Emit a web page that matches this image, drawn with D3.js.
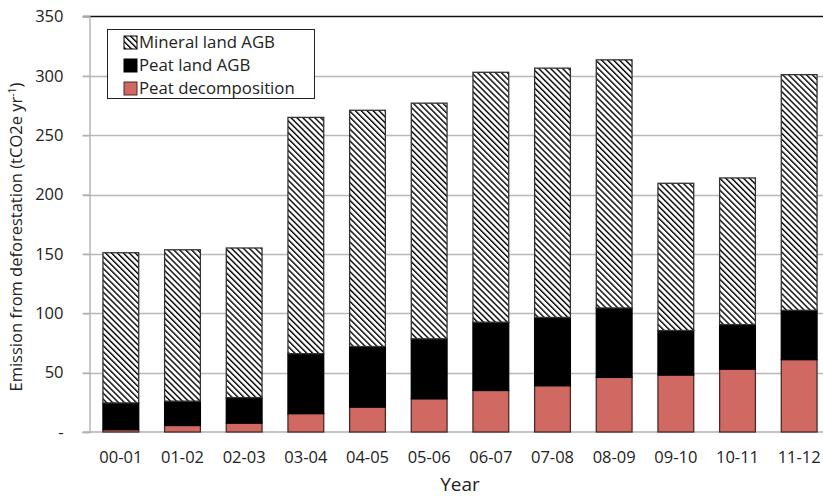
<!DOCTYPE html>
<html>
<head>
<meta charset="utf-8">
<script src="https://cdn.jsdelivr.net/npm/d3@7"></script>
<style>
  html, body { margin: 0; padding: 0; background: #fff; }
  svg { display: block; font-family: "Open Sans", sans-serif; }
</style>
</head>
<body>
<svg id="chart" width="823" height="498"></svg>
<script>
// Emissions from deforestation by year (tCO2e per year), stacked by source
const years = ["00-01","01-02","02-03","03-04","04-05","05-06","06-07","07-08","08-09","09-10","10-11","11-12"];
const peatDecomposition = [2, 5.5, 7.5, 15.5, 21, 28, 35, 39, 46, 48, 53, 61];
const peatLandAGB       = [22.5, 20.5, 21.5, 50.5, 51, 50.5, 57.5, 57.5, 58.5, 37.5, 37.5, 41.5];
const mineralLandAGB    = [126.5, 127.5, 126, 199, 199, 198.5, 210.5, 210, 209, 124, 123.5, 198.5];
const yTicks = [0, 50, 100, 150, 200, 250, 300, 350];
const seriesNames = ["Mineral land AGB", "Peat land AGB", "Peat decomposition"];

const svg = d3.select("#chart");
const x = d3.scaleBand().domain(years).range([90, 830]).paddingInner(0.42).paddingOuter(0.21);
const y = d3.scaleLinear().domain([0, 350]).range([432, 16.5]);

// hatch pattern for the mineral land series
const defs = svg.append("defs");
const pat = defs.append("pattern")
  .attr("id", "hatch").attr("patternUnits", "userSpaceOnUse")
  .attr("width", 4.2).attr("height", 4.2)
  .attr("patternTransform", "rotate(-45)");
pat.append("rect").attr("width", 4.2).attr("height", 4.2).attr("fill", "#fff");
pat.append("line").attr("x1", 0).attr("y1", 0).attr("x2", 0).attr("y2", 4.2)
  .attr("stroke", "#000").attr("stroke-width", 2.8);

// gridlines
const grid = svg.append("g");
grid.selectAll("line").data(yTicks.filter(d => d > 0 && d < 350)).join("line")
  .attr("x1", 83).attr("x2", 823)
  .attr("y1", d => Math.round(y(d)) + 0.5).attr("y2", d => Math.round(y(d)) + 0.5)
  .attr("stroke", "#b8b8b8").attr("stroke-width", 1.4);
// top border line
svg.append("line").attr("x1", 83).attr("x2", 823)
  .attr("y1", y(350)).attr("y2", y(350))
  .attr("stroke", "#111").attr("stroke-width", 1.6);
// baseline
svg.append("line").attr("x1", 83).attr("x2", 823)
  .attr("y1", y(0)).attr("y2", y(0))
  .attr("stroke", "#b0b0b0").attr("stroke-width", 1.6);

// y axis
const yAxis = d3.axisLeft(y).tickValues(yTicks).tickSize(7).tickPadding(19)
  .tickFormat(d => d === 0 ? "-" : d);
const gy = svg.append("g").attr("transform", "translate(89.5,0)").call(yAxis);
gy.select(".domain").attr("stroke", "#b0b0b0").attr("stroke-width", 1.4);
gy.selectAll(".tick line").attr("stroke", "#b0b0b0").attr("stroke-width", 1.4);
gy.selectAll(".tick text").attr("font-size", 16.5).attr("fill", "#222")
  .attr("font-family", "Open Sans, sans-serif");

// stacked bars
const data = years.map((yr, i) => ({
  year: yr,
  "Peat decomposition": peatDecomposition[i],
  "Peat land AGB": peatLandAGB[i],
  "Mineral land AGB": mineralLandAGB[i]
}));
const stack = d3.stack().keys(["Peat decomposition", "Peat land AGB", "Mineral land AGB"]);
const layers = stack(data);
const fills = { "Peat decomposition": "#d16963", "Peat land AGB": "#000", "Mineral land AGB": "url(#hatch)" };
const strokes = { "Peat decomposition": "#4a2b29", "Peat land AGB": "#000", "Mineral land AGB": "#333" };

svg.append("g").selectAll("g").data(layers).join("g")
  .attr("fill", d => fills[d.key]).attr("stroke", d => strokes[d.key])
  .attr("stroke-width", 1.3)
  .selectAll("rect").data(d => d).join("rect")
  .attr("x", d => x(d.data.year))
  .attr("width", x.bandwidth())
  .attr("y", d => y(d[1]))
  .attr("height", d => y(d[0]) - y(d[1]));

// x axis labels
const xAxis = d3.axisBottom(x).tickSize(0).tickPadding(19);
const gx = svg.append("g").attr("transform", "translate(0,432)").call(xAxis);
gx.select(".domain").remove();
gx.selectAll(".tick text").attr("font-size", 16.5).attr("fill", "#222")
  .attr("font-family", "Open Sans, sans-serif");

// axis titles
svg.append("text").attr("x", 460).attr("y", 491).attr("text-anchor", "middle")
  .attr("font-size", 19).attr("fill", "#222").text("Year");
const yt = svg.append("text").attr("transform", "translate(22,237) rotate(-90)")
  .attr("text-anchor", "middle").attr("font-size", 16.5).attr("fill", "#222");
yt.append("tspan").text("Emission from deforestation (tCO2e yr");
yt.append("tspan").attr("font-size", 10.5).attr("dy", -6).text("-1");
yt.append("tspan").attr("dy", 6).text(")");

// legend
const legend = svg.append("g");
legend.append("rect").attr("x", 107.5).attr("y", 29.5).attr("width", 207).attr("height", 69)
  .attr("fill", "#fff").attr("stroke", "#222").attr("stroke-width", 1);
const rows = legend.selectAll("g").data(seriesNames).join("g")
  .attr("transform", (d, i) => `translate(124,${42.5 + i * 23})`);
rows.append("rect").attr("x", 0).attr("y", -6.5).attr("width", 13).attr("height", 13)
  .attr("fill", d => fills[d]).attr("stroke", d => d === "Peat decomposition" ? "#4a2b29" : "#000")
  .attr("stroke-width", 1);
rows.append("text").attr("x", 15).attr("y", 0).attr("dy", "0.35em")
  .attr("font-size", 16.8).attr("fill", "#222").text(d => d);
</script>
</body>
</html>
